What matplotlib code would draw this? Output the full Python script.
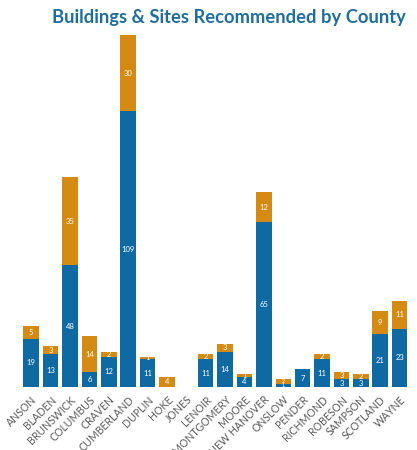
import matplotlib
matplotlib.use("Agg")
import matplotlib.pyplot as plt

counties = ["ANSON", "BLADEN", "BRUNSWICK", "COLUMBUS", "CRAVEN", "CUMBERLAND",
            "DUPLIN", "HOKE", "JONES", "LENOIR", "MONTGOMERY", "MOORE",
            "NEW HANOVER", "ONSLOW", "PENDER", "RICHMOND", "ROBESON", "SAMPSON",
            "SCOTLAND", "WAYNE"]
buildings = [19, 13, 48, 6, 12, 109, 11, 0, 0, 11, 14, 4, 65, 1, 7, 11, 3, 3, 21, 23]
sites = [5, 3, 35, 14, 2, 30, 1, 4, 0, 2, 3, 1, 12, 2, 0, 2, 3, 2, 9, 11]

BLUE = "#0F69A3"
ORANGE = "#D58A14"

fig = plt.figure(figsize=(4.17, 4.5), dpi=100)
ax = fig.add_axes([0.0516, 0.14, 0.930, 0.782])
x = list(range(len(counties)))
ax.bar(x, buildings, width=0.8, color=BLUE)
ax.bar(x, sites, width=0.8, bottom=buildings, color=ORANGE)

for i in x:
    small = (buildings[i] > 0 and sites[i] > 0 and buildings[i] + sites[i] <= 4)
    fs = 4 if small else 5.5
    if buildings[i] > 0:
        ax.text(i, buildings[i] / 2, str(buildings[i]), ha="center", va="center",
                color="white", fontsize=fs, family="Lato")
    if sites[i] > 0:
        ax.text(i, buildings[i] + sites[i] / 2, str(sites[i]), ha="center", va="center",
                color="white", fontsize=fs, family="Lato")

ax.set_xlim(-0.5, len(counties) - 0.5)
ax.set_ylim(0, 139)
ax.set_xticks(x)
ax.set_xticklabels(counties, rotation=45, ha="right", rotation_mode="anchor",
                   fontsize=7.6, color="#595959", family="Lato")
ax.tick_params(axis="x", length=0, pad=5)
ax.set_yticks([])
for s in ax.spines.values():
    s.set_visible(False)

fig.text(0.548, 0.962, "Buildings & Sites Recommended by County", ha="center", va="center",
         fontsize=13.2, fontweight="bold", color="#1F6D9B", family="Lato")

fig.savefig("out.png", dpi=100)
